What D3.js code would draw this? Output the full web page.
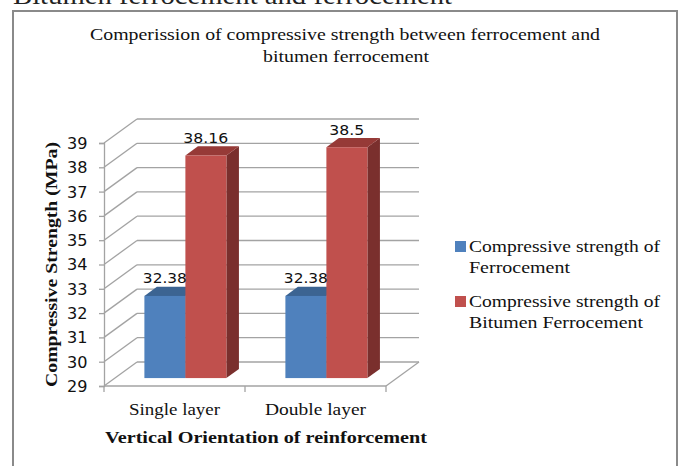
<!DOCTYPE html>
<html>
<head>
<meta charset="utf-8">
<script src="https://cdn.jsdelivr.net/npm/d3@7"></script>
<style>
html,body{margin:0;padding:0;background:#fff;}
svg{display:block;}
</style>
</head>
<body>
<svg id="chart" width="681" height="466"></svg>
<script>
const categories = ["Single layer", "Double layer"];
const seriesNames = ["Compressive strength of Ferrocement", "Compressive strength of Bitumen Ferrocement"];
const ferrocement = [32.38, 32.38];
const bitumenFerrocement = [38.16, 38.5];
const yTicks = [29, 30, 31, 32, 33, 34, 35, 36, 37, 38, 39];
const legendLines = [["Compressive strength of", "Ferrocement"], ["Compressive strength of", "Bitumen Ferrocement"]];

const colors = [
  {front: "#4F81BD", top: "#3C6492", side: "#385D88"},
  {front: "#C0504D", top: "#963A37", side: "#7A2F2D"}
];

const svg = d3.select("#chart");
const serif = "'Liberation Serif', 'DejaVu Serif', serif";
const sans = "'DejaVu Sans', 'Liberation Sans', sans-serif";

function fit(sel, w) {
  sel.attr("textLength", w).attr("lengthAdjust", "spacingAndGlyphs");
  return sel;
}

// cut-off heading above the chart
fit(svg.append("text").attr("x", 13).attr("y", 4)
  .attr("font-family", serif).attr("font-size", 26).attr("fill", "#222")
  .text("Bitumen ferrocement and ferrocement"), 439);

// chart border
svg.append("rect").attr("x", 13).attr("y", 11).attr("width", 664).attr("height", 470)
  .attr("fill", "none").attr("stroke", "#8a8a8a").attr("stroke-width", 2);

// title
fit(svg.append("text").attr("x", 345).attr("y", 40).attr("text-anchor", "middle")
  .attr("font-family", serif).attr("font-size", 16).attr("fill", "#111")
  .text("Comperission of compressive strength between ferrocement and"), 510);
fit(svg.append("text").attr("x", 346).attr("y", 62).attr("text-anchor", "middle")
  .attr("font-family", serif).attr("font-size", 16).attr("fill", "#111")
  .text("bitumen ferrocement"), 166);

// scales
const x0 = d3.scaleBand().domain(categories).range([104, 386]).padding(0);
const groupW = 82;
const x1 = d3.scaleBand().domain([0, 1]).range([0, groupW]).padding(0);
const y = d3.scaleLinear().domain([29, 39]).range([386, 143]);
const D = [33, -24]; // depth vector
const f0 = 0.33, f1 = 0.71;

const gridColor = "#a3a3a3";
const g = svg.append("g");

// side and back wall gridlines
yTicks.forEach(v => {
  const yy = y(v);
  g.append("line").attr("x1", 104).attr("y1", yy).attr("x2", 104 + D[0]).attr("y2", yy + D[1])
    .attr("stroke", gridColor).attr("stroke-width", 1.3);
  g.append("line").attr("x1", 104 + D[0]).attr("y1", yy + D[1]).attr("x2", 386 + D[0]).attr("y2", yy + D[1])
    .attr("stroke", gridColor).attr("stroke-width", 1.3);
});
// floor right edge
g.append("line").attr("x1", 386).attr("y1", y(29)).attr("x2", 386 + D[0]).attr("y2", y(29) + D[1])
  .attr("stroke", gridColor).attr("stroke-width", 1.3);

// y axis
const yAxis = d3.axisLeft(y).tickValues(yTicks).tickSize(5).tickPadding(7).tickFormat(d3.format("d"));
const ya = svg.append("g").attr("transform", "translate(104,0)").call(yAxis);
ya.select(".domain").attr("stroke", gridColor).attr("stroke-width", 1.3);
ya.selectAll(".tick line").attr("stroke", gridColor).attr("stroke-width", 1.3);
ya.selectAll(".tick text").attr("font-family", sans).attr("font-size", 15).attr("fill", "#111")
  .attr("x", -16.5).attr("dy", "0.36em")
  .attr("textLength", 20.5).attr("lengthAdjust", "spacingAndGlyphs");

// x axis
const xAxis = d3.axisBottom(x0).tickSize(0).tickPadding(0);
const xa = svg.append("g").attr("transform", `translate(0,${y(29)})`).call(xAxis);
xa.select(".domain").remove();
xa.selectAll(".tick text").remove();
svg.append("line").attr("x1", 104).attr("y1", y(29)).attr("x2", 386).attr("y2", y(29))
  .attr("stroke", gridColor).attr("stroke-width", 1.3);
const edges = categories.map(c => x0(c)).concat([x0.range()[1]]);
edges.forEach(xx => {
  svg.append("line").attr("x1", xx).attr("y1", y(29)).attr("x2", xx).attr("y2", y(29) + 6)
    .attr("stroke", gridColor).attr("stroke-width", 1.3);
});
const catWidths = [91, 101];
categories.forEach((c, i) => {
  fit(svg.append("text").attr("x", x0(c) + x0.bandwidth() / 2).attr("y", 415).attr("text-anchor", "middle")
    .attr("font-family", serif).attr("font-size", 16).attr("fill", "#111").text(c), catWidths[i]);
});

// bars
const seriesData = [ferrocement, bitumenFerrocement];
const labelWidths = [[44, 45], [44, 35]];
categories.forEach((c, ci) => {
  const gx = x0(c) + (x0.bandwidth() - groupW) / 2;
  seriesData.forEach((vals, si) => {
    const v = vals[ci];
    const xl = gx + x1(si) + f0 * D[0];
    const xr = xl + x1.bandwidth();
    const yt = y(v) + f0 * D[1];
    const yb = y(29) + f0 * D[1];
    const ddx = (f1 - f0) * D[0], ddy = (f1 - f0) * D[1];
    const col = colors[si];
    // side
    svg.append("path").attr("d", `M${xr},${yt}L${xr + ddx},${yt + ddy}L${xr + ddx},${yb + ddy}L${xr},${yb}Z`)
      .attr("fill", col.side);
    // top
    svg.append("path").attr("d", `M${xl},${yt}L${xl + ddx},${yt + ddy}L${xr + ddx},${yt + ddy}L${xr},${yt}Z`)
      .attr("fill", col.top);
    // front
    svg.append("rect").attr("x", xl).attr("y", yt).attr("width", xr - xl).attr("height", yb - yt)
      .attr("fill", col.front);
  });
  // labels on top
  seriesData.forEach((vals, si) => {
    const v = vals[ci];
    const xl = gx + x1(si) + f0 * D[0];
    const cx = xl + x1.bandwidth() / 2;
    const ytb = y(v) + f1 * D[1];
    fit(svg.append("text").attr("x", cx).attr("y", ytb - 3.5).attr("text-anchor", "middle")
      .attr("font-family", sans).attr("font-size", 14.5).attr("fill", "#111").text(String(v)), labelWidths[ci][si]);
  });
});

// axis titles
fit(svg.append("text").attr("transform", "translate(57,264.5) rotate(-90)").attr("text-anchor", "middle")
  .attr("font-family", serif).attr("font-size", 16.5).attr("font-weight", "bold").attr("fill", "#111")
  .text("Compressive Strength (MPa)"), 245);
fit(svg.append("text").attr("x", 266).attr("y", 443).attr("text-anchor", "middle")
  .attr("font-family", serif).attr("font-size", 16.5).attr("font-weight", "bold").attr("fill", "#111")
  .text("Vertical Orientation of reinforcement"), 322);

// legend
const legTop = [241, 296];
const legW = [[191, 101], [191, 174]];
seriesNames.forEach((s, i) => {
  svg.append("rect").attr("x", 455).attr("y", legTop[i]).attr("width", 11).attr("height", 11)
    .attr("fill", colors[i].front);
  legendLines[i].forEach((t, li) => {
    fit(svg.append("text").attr("x", 469).attr("y", legTop[i] + 10.7 + li * 21.3)
      .attr("font-family", serif).attr("font-size", 16.5).attr("fill", "#111").text(t), legW[i][li]);
  });
});
</script>
</body>
</html>
